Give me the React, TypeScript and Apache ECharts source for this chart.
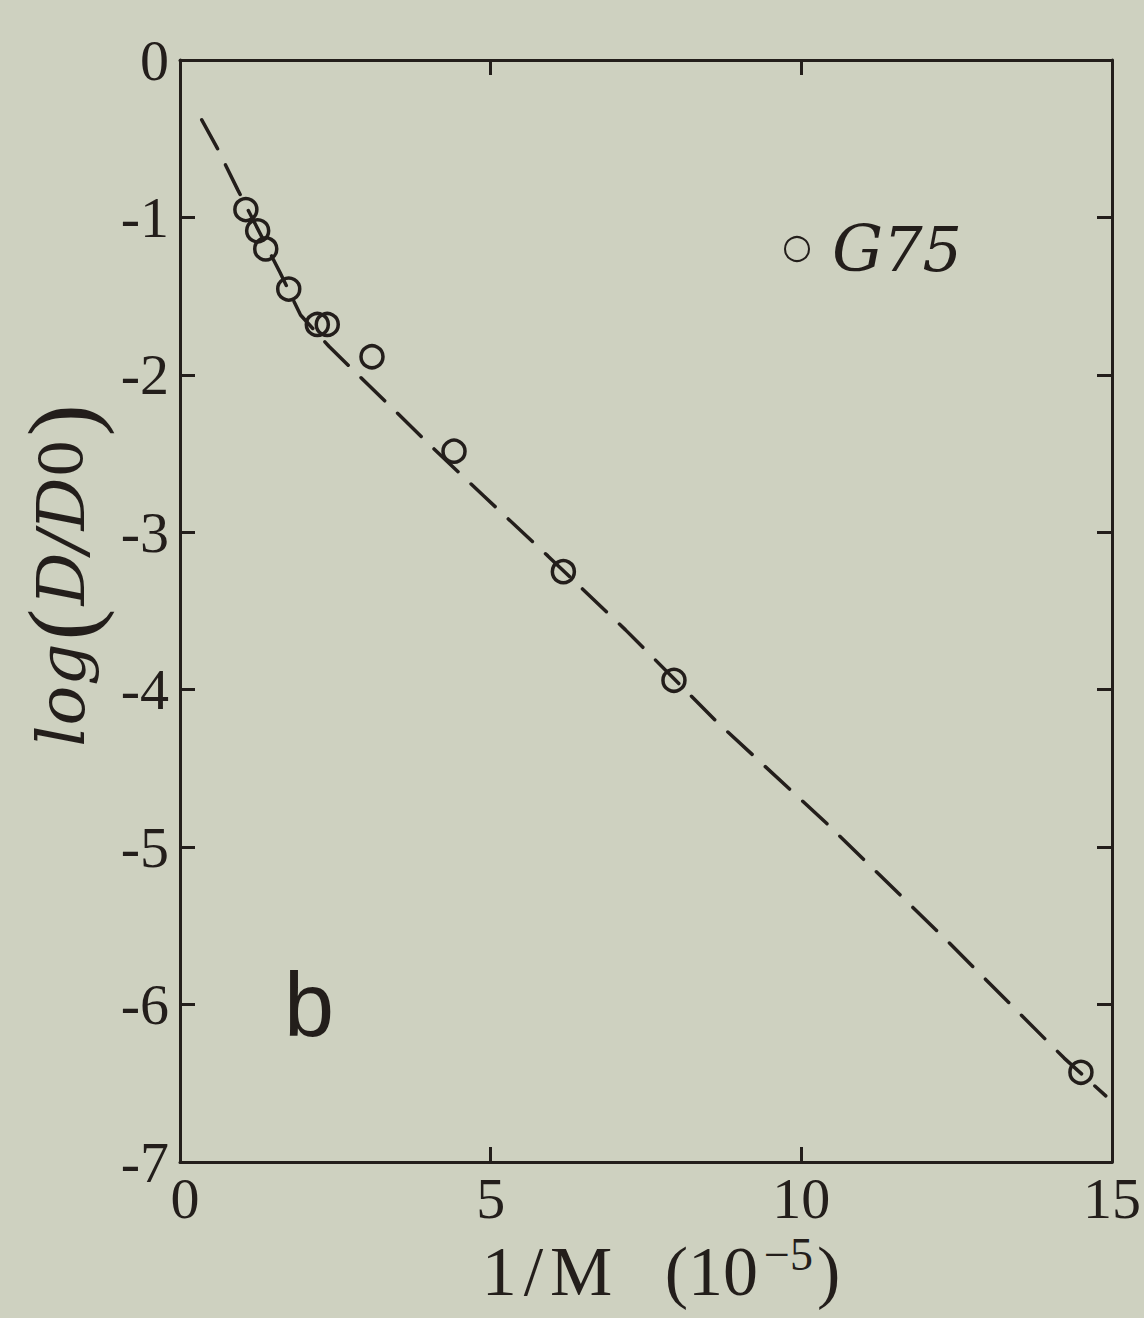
import React, { useEffect, useRef } from "react";
import * as echarts from "echarts";

// Measured points for sample G75: 1/M (in units of 1e-5) vs log(D/D0)
const pointX = [1.06, 1.25, 1.38, 1.75, 2.21, 2.37, 3.09, 4.41, 6.17, 7.95, 14.5];
const pointY = [-0.95, -1.085, -1.2, -1.455, -1.68, -1.68, -1.885, -2.485, -3.25, -3.94, -6.43];

// Dashed guide curve through the data
const fitX = [0.35, 0.6, 0.93, 1.61, 1.94, 2.4, 2.84, 3.49, 4.06, 4.89, 5.92, 7.17, 8.63, 10.41, 12.36, 14.23, 14.9];
const fitY = [-0.38, -0.56, -0.825, -1.35, -1.62, -1.82, -1.99, -2.24, -2.46, -2.77, -3.15, -3.62, -4.2, -4.85, -5.6, -6.34, -6.58];

const seriesName = "G75";
const panelLabel = "b";

const INK = "#231e1b";
const PAPER = "#ced1c0";
const SERIF = "'Liberation Serif', 'DejaVu Serif', serif";
const WIDE_SERIF = "'DejaVu Serif', 'Liberation Serif', serif";

export default function App() {
  const ref = useRef<HTMLDivElement>(null);

  useEffect(() => {
    document.body.style.margin = "0";
    document.body.style.background = PAPER;
    if (!ref.current) return;
    const chart = echarts.init(ref.current, null, { renderer: "svg" });

    const tickStyle = { show: true, inside: true, length: 15, lineStyle: { color: INK, width: 3 } };
    const lineStyle = { show: true, onZero: false, lineStyle: { color: INK, width: 3 } };

    chart.setOption({
      animation: false,
      backgroundColor: PAPER,
      grid: { left: 180, top: 60, width: 938, height: 1102, containLabel: false },
      legend: {
        show: true,
        left: 779,
        top: 212,
        itemWidth: 24,
        itemHeight: 24,
        data: [{ name: seriesName, icon: "circle" }],
        formatter: () => "{g|G}{d|75}",
        textStyle: {
          color: INK,
          padding: [0, 0, 0, 18],
          rich: {
            g: { fontFamily: WIDE_SERIF, fontStyle: "italic", fontSize: 64, color: INK },
            d: { fontFamily: WIDE_SERIF, fontStyle: "italic", fontSize: 62, color: INK },
          },
        },
      },
      xAxis: [
        {
          type: "value",
          min: 0,
          max: 15,
          interval: 5,
          position: "bottom",
          axisLine: lineStyle,
          axisTick: tickStyle,
          splitLine: { show: false },
          axisLabel: {
            color: INK,
            fontFamily: SERIF,
            fontSize: 58,
            margin: 16,
            lineHeight: 40,
            // the corner "0" sits just right of the "-7" on the vertical axis
            formatter: (v: number) => (v === 0 ? "{z|0}" : String(v)),
            rich: { z: { fontFamily: SERIF, fontSize: 58, color: INK, lineHeight: 40, padding: [0, 0, 0, 10] } },
          },
          name: "{m|1}{sl|/}{m|M}{m|   (10}{s|−5}{m|)}",
          nameLocation: "middle",
          nameGap: 62,
          nameTextStyle: {
            padding: [0, 0, 0, 30],
            rich: {
              m: { fontFamily: SERIF, fontSize: 70, color: INK, lineHeight: 80 },
              sl: { fontFamily: SERIF, fontSize: 70, color: INK, lineHeight: 80, padding: [0, 7, 0, 7] },
              s: { fontFamily: SERIF, fontSize: 46, color: INK, lineHeight: 52, verticalAlign: "top", padding: [0, 4, 0, 6] },
            },
          },
        },
        {
          type: "value",
          min: 0,
          max: 15,
          interval: 5,
          position: "top",
          axisLine: lineStyle,
          axisTick: tickStyle,
          splitLine: { show: false },
          axisLabel: { show: false },
        },
      ],
      yAxis: [
        {
          type: "value",
          min: -7,
          max: 0,
          interval: 1,
          position: "left",
          axisLine: lineStyle,
          axisTick: tickStyle,
          splitLine: { show: false },
          axisLabel: { color: INK, fontFamily: SERIF, fontSize: 58, margin: 11, lineHeight: 30 },
          name: "{i|log}{p|(}{i|D/D}{n|0}{p|)}",
          nameLocation: "middle",
          nameRotate: 90,
          nameGap: 70,
          nameTextStyle: {
            padding: [0, 0, 0, 74],
            rich: {
              i: { fontFamily: WIDE_SERIF, fontStyle: "italic", fontSize: 66, color: INK, lineHeight: 96 },
              n: { fontFamily: WIDE_SERIF, fontSize: 60, color: INK, lineHeight: 96 },
              p: { fontFamily: SERIF, fontSize: 96, color: INK, lineHeight: 96, padding: [0, 3, 0, 3] },
            },
          },
        },
        {
          type: "value",
          min: -7,
          max: 0,
          interval: 1,
          position: "right",
          axisLine: lineStyle,
          axisTick: tickStyle,
          splitLine: { show: false },
          axisLabel: { show: false },
        },
      ],
      series: [
        {
          name: "fit",
          type: "line",
          data: fitX.map((x, i) => [x, fitY[i]]),
          showSymbol: false,
          symbol: "none",
          lineStyle: { color: INK, width: 3.5, type: [33, 18], cap: "round" },
          silent: true,
          z: 2,
        },
        {
          name: seriesName,
          type: "scatter",
          data: pointX.map((x, i) => [x, pointY[i]]),
          symbol: "circle",
          symbolSize: 22,
          itemStyle: { color: "rgba(0,0,0,0)", borderColor: INK, borderWidth: 3.5, opacity: 1 },
          z: 3,
        },
      ],
      graphic: [
        {
          type: "text",
          left: 284,
          top: 960,
          style: {
            text: panelLabel,
            fontFamily: "'Liberation Sans', 'DejaVu Sans', sans-serif",
            fontSize: 90,
            fill: INK,
          },
        },
      ],
    });

    return () => chart.dispose();
  }, []);

  return <div ref={ref} style={{ width: 1144, height: 1318 }} />;
}
